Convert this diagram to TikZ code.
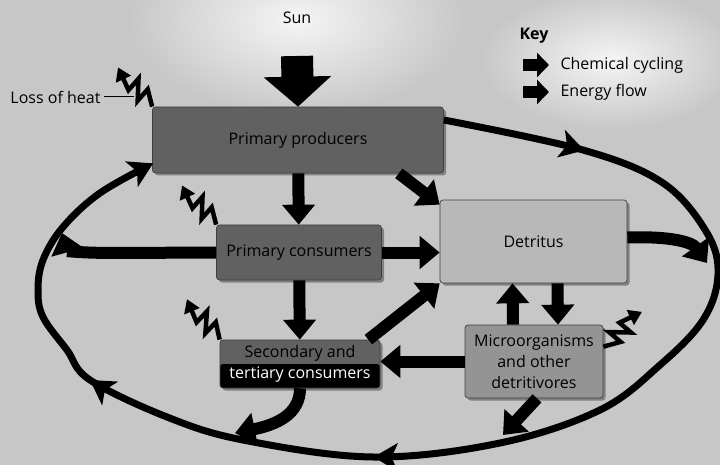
\documentclass[tikz,border=0pt]{standalone}
\usepackage{fontspec}
\setmainfont{Open Sans}
\usetikzlibrary{arrows.meta,decorations.markings,shadows}

\tikzset{
  every node/.style={font=\fontsize{16}{21}\selectfont},
  box/.style={draw=black!75, line width=0.7pt, rounded corners=3pt, inner sep=2pt, align=center,
    drop shadow={shadow xshift=2.5pt, shadow yshift=-2.5pt, fill=black, opacity=0.35}},
  flow/.style={line width=12pt, -{Triangle[width=32pt,length=20pt]}},
  keyflow/.style={line width=12pt, -{Triangle[width=24pt,length=12pt]}},
  sunflow/.style={line width=32pt, -{Triangle[width=66pt,length=30pt]}},
  cycleline/.style={line width=7pt, -{Stealth[width=28pt,length=24pt,inset=6pt]}},
  cyclemarks/.style={decoration={markings,
      mark=at position 0.107 with {\arrow{Stealth[width=28pt,length=24pt,inset=6pt]}},
      mark=at position 0.565 with {\arrow{Stealth[width=28pt,length=24pt,inset=6pt]}},
      mark=at position 0.786 with {\arrow{Stealth[width=28pt,length=24pt,inset=6pt]}}},
    postaction={decorate}},
  heatline/.style={line width=4.5pt, line join=miter, -{Triangle[width=16pt,length=13pt]}},
  heat/.pic={\draw[heatline] (0,0) -- (16,8) -- (14,-7) -- (30,8) -- (28,-7) -- (52,0);}
}

\begin{document}
\begin{tikzpicture}[x=1pt,y=-1pt]
\useasboundingbox (0,0) rectangle (720,465);
\fill[black!22] (0,0) rectangle (720,465);
\shade[inner color=black!4, outer color=black!22] (297,20) ellipse (170 and 95);
\shade[inner color=black!4, outer color=black!22] (610,60) ellipse (130 and 70);

\node[box, fill=black!62, minimum width=291pt, minimum height=66pt] (pp) at (298,140) {Primary producers};
\node[box, fill=black!62, minimum width=165pt, minimum height=55pt] (pc) at (299,252.5) {Primary consumers};
\node[box, fill=black!62, minimum width=160pt, minimum height=48pt,
  path picture={\fill[black] (path picture bounding box.west) rectangle (path picture bounding box.south east);}]
  (sc) at (300,364) {Secondary and\\\textcolor{white}{tertiary consumers}};
\node[box, fill=black!28, minimum width=187pt, minimum height=83pt] (det) at (533.5,241.5) {Detritus};
\node[box, fill=black!42, minimum width=138pt, minimum height=73pt] (mi) at (534,361.5) {Microorganisms\\and other\\detritivores};

\node (sun) at (297,18) {Sun};
\coordinate (sunray) at (297,56);
\draw[sunflow] (sunray) -- (pp.north);

\node[anchor=west, font=\fontsize{16}{21}\selectfont\bfseries] (key) at (516,36) {Key};
\node[anchor=west] (chem) at (557,65) {Chemical cycling};
\node[anchor=west] (energy) at (557,92) {Energy flow};
\draw[keyflow] ([xshift=-34pt]chem.west) -- ([xshift=-8pt]chem.west);
\draw[keyflow] ([xshift=-34pt]energy.west) -- ([xshift=-8pt]energy.west);

\coordinate (cs) at ([yshift=20pt]pp.east);
\coordinate (ce) at ([xshift=1pt,yshift=10pt]pp.south west);
\draw[cycleline, cyclemarks] plot[smooth, tension=0.6] coordinates {(cs) (583,150) (663,183) (707,233) (718,275)
  (703,320) (660,365) (600,410) (500,443) (373,457) (243,440) (167,417) (90,380) (67,350) (43,317) (38,290)
  (43,260) (63,227) (100,193) (ce)};

\coordinate (cyR) at (707,263);
\coordinate (cyB) at (503,435);
\coordinate (cyBL) at (235,433);
\coordinate (cyL) at (62,233);

\draw[flow] (pp) -- (pc);
\draw[flow] (pc) -- (sc);
\draw[flow] ([xshift=-45pt]pp.south east) -- ([yshift=-5pt]det.north west);
\draw[flow] (pc.east) -- (pc.east -| det.west);
\draw[flow] ([xshift=-12pt]sc.north east) -- (det.south west);
\draw[flow] ([xshift=-21pt]mi.north) -- ([xshift=-21pt]det.south);
\draw[flow] ([xshift=24pt]det.south) -- ([xshift=24pt]mi.north);
\draw[flow] (mi.west) -- (mi.west -| sc.east);
\draw[flow] ([xshift=3pt]mi.south) -- (cyB);
\draw[flow] (sc.south) .. controls (300,415) and (275,425) .. (cyBL);
\draw[flow] ([yshift=4pt]det.east) .. controls (670,236) and (692,242) .. (cyR);
\draw[flow] (pc.west) -- (115,253) .. controls (82,253) and (67,251) .. (cyL);

\pic[rotate=131] at (pp.north west) {heat};
\pic[rotate=131] at (pc.north west) {heat};
\pic[rotate=129] at (sc.north west) {heat};
\pic[rotate=42] at ([yshift=-22pt]mi.north east) {heat};

\node[anchor=east] (loss) at (104,97) {Loss of heat};
\coordinate (lossend) at (134,97);
\draw[line width=1pt] (loss.east) -- (lossend);
\end{tikzpicture}
\end{document}
